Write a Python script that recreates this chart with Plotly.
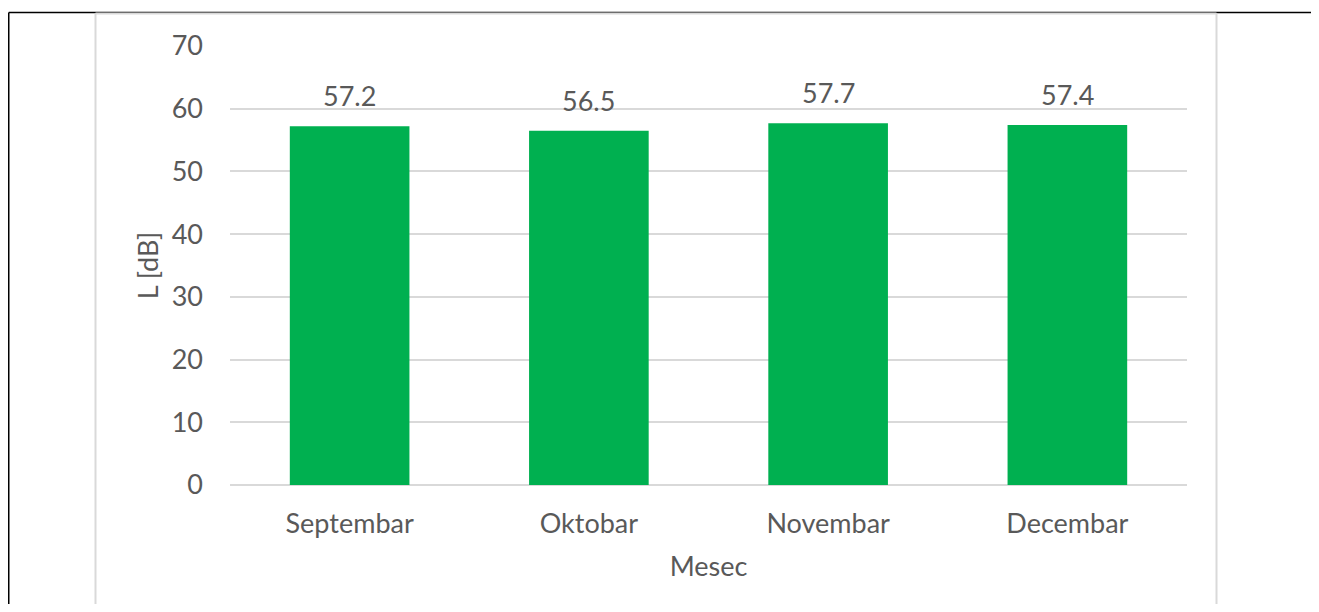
import plotly.graph_objects as go

months = ["Septembar", "Oktobar", "Novembar", "Decembar"]
levels = [57.2, 56.5, 57.7, 57.4]
y_ticks = [0, 10, 20, 30, 40, 50, 60, 70]

FONT = "Lato"
TXT = "#595959"
GRID = "#D9D9D9"
GREEN = "#00B050"

# page body has an 8px margin; figure sized so the page fits the window
OFF = 8
W, H = 1303, 596
L, R, T, B = 222, 124, 38, 119
pw, ph = W - L - R, H - T - B

def px(x_page):
    return (x_page - OFF - L) / pw

def py(y_page):
    return (H - B - (y_page - OFF)) / ph

fig = go.Figure(
    go.Bar(
        x=months,
        y=levels,
        marker=dict(color=GREEN, line=dict(width=0)),
        hoverinfo="x+y",
    )
)

for m, v in zip(months, levels):
    fig.add_annotation(
        x=m, y=v, text=f"{v:.1f}", showarrow=False,
        yanchor="bottom", yshift=12,
        font=dict(family=FONT, size=27, color=TXT),
    )

shapes = [
    # outer black frame (top and left)
    dict(type="line", xref="paper", yref="paper", x0=px(8.75), x1=px(1330), y0=py(12.5), y1=py(12.5),
         line=dict(color="black", width=1.5)),
    dict(type="line", xref="paper", yref="paper", x0=px(8.75), x1=px(8.75), y0=py(12.5), y1=py(640),
         line=dict(color="black", width=1.5)),
    # gray chart-area frame
    dict(type="line", xref="paper", yref="paper", x0=px(95.5), x1=px(1216.5), y0=py(13.5), y1=py(13.5),
         line=dict(color=GRID, width=2)),
    dict(type="line", xref="paper", yref="paper", x0=px(95.5), x1=px(95.5), y0=py(13.5), y1=py(640),
         line=dict(color=GRID, width=2)),
    dict(type="line", xref="paper", yref="paper", x0=px(1216.5), x1=px(1216.5), y0=py(13.5), y1=py(640),
         line=dict(color=GRID, width=2)),
]

fig.update_layout(
    width=W, height=H,
    margin=dict(l=L, r=R, t=T, b=B, autoexpand=False),
    paper_bgcolor="white", plot_bgcolor="white",
    bargap=0.5,
    showlegend=False,
    font=dict(family=FONT, size=27, color=TXT),
    shapes=shapes,
    xaxis=dict(
        title=dict(text="Mesec", font=dict(family=FONT, size=27, color=TXT), standoff=19),
        showgrid=False, zeroline=False, showline=False,
        ticks="", ticklabelstandoff=20,
        tickfont=dict(family=FONT, size=27, color=TXT),
        fixedrange=True,
    ),
    yaxis=dict(
        title=dict(text="L [dB]", font=dict(family=FONT, size=27, color=TXT), standoff=5),
        range=[0, 70], tickvals=y_ticks,
        showgrid=True, gridcolor=GRID, gridwidth=1.5,
        zeroline=True, zerolinecolor=GRID, zerolinewidth=1.5,
        showline=False, ticks="", ticklabelstandoff=26,
        tickfont=dict(family=FONT, size=27, color=TXT),
        fixedrange=True,
    ),
)

fig.write_html("out.html")
